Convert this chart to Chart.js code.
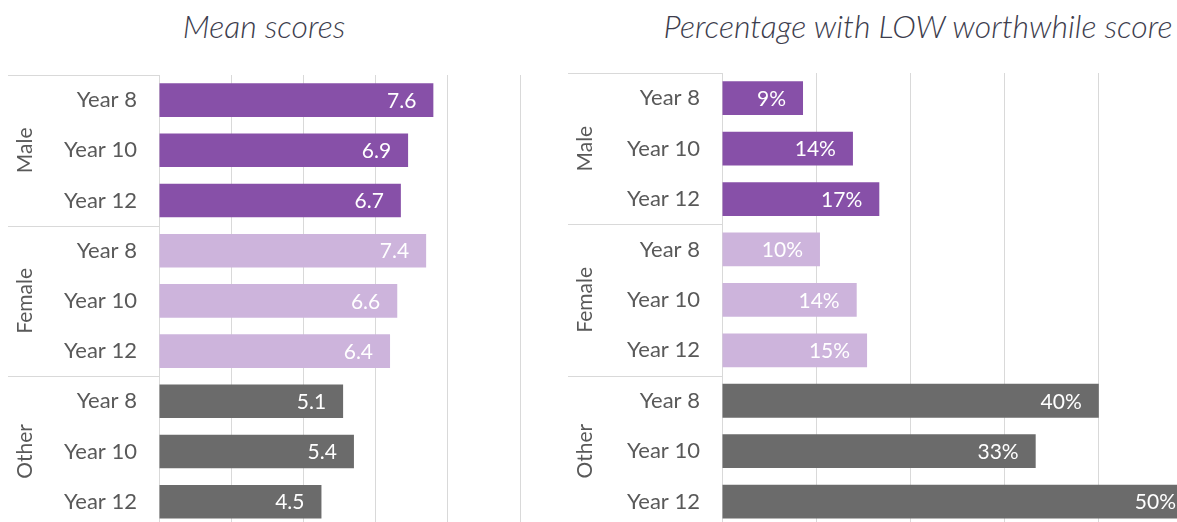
<!DOCTYPE html>
<html>
<head>
<meta charset="utf-8">
<script src="https://cdn.jsdelivr.net/npm/chart.js@4.4.1/dist/chart.umd.min.js"></script>
<style>
  html, body { margin: 0; padding: 0; background: #fff; width: 1177px; height: 522px; overflow: hidden; position: relative; }
  canvas { position: absolute; top: 0; }
  .title { position: absolute; top: 6px; font-family: Lato, sans-serif; font-style: italic; font-weight: 300; font-size: 32px; color: #3d3d4d; white-space: nowrap; transform: translateX(-50%); }
</style>
</head>
<body>
<div class="title" style="left:264px">Mean scores</div>
<div class="title" style="left:918px">Percentage with LOW worthwhile score</div>
<canvas id="meanChart" width="530" height="562" style="left:0"></canvas>
<canvas id="lowChart" width="643" height="562" style="left:560px"></canvas>
<script>
// --- datos ---
const groups = ['Male', 'Female', 'Other'];
const years = ['Year 8', 'Year 10', 'Year 12'];
const meanScores = [7.6, 6.9, 6.7, 7.4, 6.6, 6.4, 5.1, 5.4, 4.5];
const lowPct = [8.6, 13.9, 16.7, 10.4, 14.3, 15.4, 40.0, 33.3, 50.0];
const groupColors = ['#8750A8', '#CDB4DC', '#6B6B6B'];

const rowLabels = [];
const rowColors = [];
groups.forEach((g, gi) => years.forEach(y => { rowLabels.push(y); rowColors.push(groupColors[gi]); }));

const FONT = 'Lato, sans-serif';
const GRID = '#D9D9D9';

// etiquetas dentro del extremo de cada barra
const barLabels = {
    id: 'barLabels',
    afterDatasetsDraw(chart, args, opts) {
        const ctx = chart.ctx;
        const meta = chart.getDatasetMeta(0);
        ctx.save();
        ctx.font = '21px ' + FONT;
        ctx.fillStyle = '#ffffff';
        ctx.textAlign = 'right';
        ctx.textBaseline = 'middle';
        meta.data.forEach((bar, i) => {
            ctx.fillText(opts.format(chart.data.datasets[0].data[i]), bar.x - 17, bar.y + 1);
        });
        ctx.restore();
    }
};

// eje de categorías de dos niveles (grupo + año)
const groupAxis = {
    id: 'groupAxis',
    afterDraw(chart, args, opts) {
        const ctx = chart.ctx;
        const ys = chart.scales.y;
        const pitch = (ys.bottom - ys.top) / rowLabels.length;
        const x0 = opts.lineStart, x1 = chart.chartArea.left;
        ctx.save();
        ctx.strokeStyle = GRID;
        ctx.lineWidth = 1;
        for (let k = 0; k <= groups.length; k++) {
            const y = Math.round(ys.top + k * years.length * pitch) + 0.5;
            ctx.beginPath();
            ctx.moveTo(x0, y);
            ctx.lineTo(x1, y);
            ctx.stroke();
        }
        ctx.fillStyle = '#595959';
        ctx.font = '21px ' + FONT;
        ctx.textAlign = 'center';
        ctx.textBaseline = 'middle';
        groups.forEach((g, gi) => {
            const yc = ys.getPixelForValue(gi * years.length + 1);
            ctx.save();
            ctx.translate(x0 + 17, yc);
            ctx.rotate(-Math.PI / 2);
            ctx.fillText(g, 0, 0);
            ctx.restore();
        });
        ctx.restore();
    }
};

function makeChart(id, values, max, step, axisW, top, fmt) {
    return new Chart(document.getElementById(id).getContext('2d'), {
        type: 'bar',
        data: {
            labels: rowLabels,
            datasets: [{ data: values, backgroundColor: rowColors, borderWidth: 0, barPercentage: 0.67, categoryPercentage: 1 }]
        },
        options: {
            indexAxis: 'y',
            responsive: false,
            animation: false,
            devicePixelRatio: 1,
            layout: { padding: { top: top, right: 10, bottom: 0, left: 0 } },
            plugins: {
                legend: { display: false },
                tooltip: { enabled: false },
                barLabels: { format: fmt },
                groupAxis: { lineStart: 8 }
            },
            scales: {
                x: {
                    min: 0, max: max,
                    ticks: { display: false, stepSize: step },
                    grid: { color: GRID, lineWidth: 1, drawTicks: false },
                    border: { display: false },
                    afterFit: s => { s.height = 0; }
                },
                y: {
                    ticks: { color: '#595959', font: { family: FONT, size: 22 }, padding: 22, autoSkip: false },
                    grid: { display: false, drawTicks: false },
                    border: { display: true, color: GRID },
                    afterFit: s => { s.width = axisW; }
                }
            }
        },
        plugins: [barLabels, groupAxis]
    });
}

const meanChart = makeChart('meanChart', meanScores, 10, 2, 159, 75, v => v.toFixed(1));
const lowChart = makeChart('lowChart', lowPct, 50, 10, 162, 73, v => Math.round(v) + '%');
</script>
</body>
</html>
